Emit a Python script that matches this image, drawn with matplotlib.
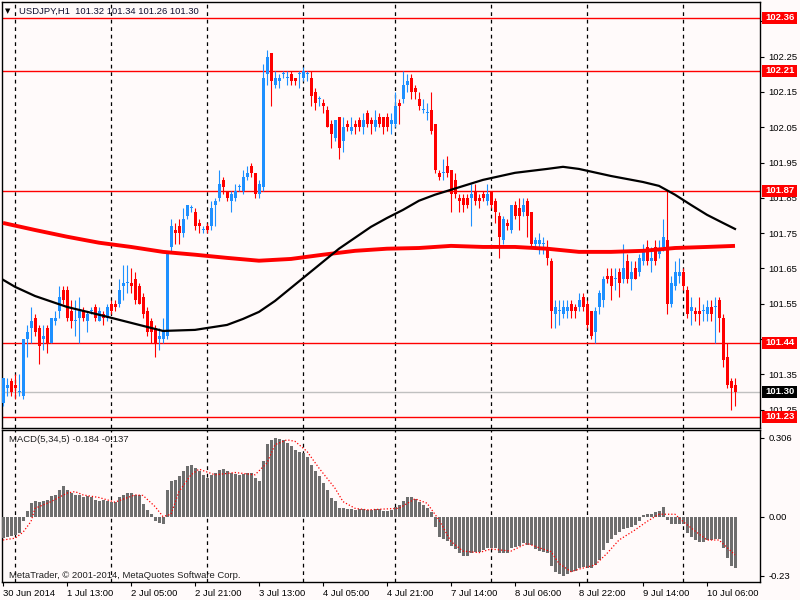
"""USDJPY H1 chart in MetaTrader style: candles, two moving averages, MACD pane."""
import numpy as np
import matplotlib.pyplot as plt
from matplotlib.patches import Rectangle
from matplotlib.transforms import blended_transform_factory

# ---- candle data (bar index = position) ----
opens = [101.27, 101.31, 101.33, 101.32, 101.30, 101.29, 101.45, 101.48, 101.51, 101.48,
         101.45, 101.48, 101.44, 101.50, 101.53, 101.59, 101.59, 101.53, 101.50, 101.51,
         101.53, 101.50, 101.53, 101.54, 101.50, 101.52, 101.51, 101.55, 101.55, 101.55,
         101.60, 101.61, 101.61, 101.62, 101.60, 101.57, 101.53, 101.50, 101.48, 101.45,
         101.45, 101.46, 101.71, 101.76, 101.77, 101.75, 101.80, 101.82, 101.81, 101.78,
         101.76, 101.77, 101.77, 101.83, 101.85, 101.90, 101.87, 101.84, 101.85, 101.88,
         101.87, 101.91, 101.94, 101.92, 101.86, 101.88, 102.20, 102.26, 102.17, 102.18,
         102.20, 102.19, 102.20, 102.19, 102.20, 102.19, 102.20, 102.19, 102.15, 102.13,
         102.12, 102.10, 102.06, 102.02, 102.08, 102.01, 102.06, 102.04, 102.06, 102.07,
         102.05, 102.09, 102.07, 102.05, 102.08, 102.08, 102.08, 102.06, 102.06, 102.12,
         102.13, 102.17, 102.19, 102.16, 102.13, 102.10, 102.09, 102.10, 102.06, 101.92,
         101.92, 101.94, 101.93, 101.90, 101.85, 101.85, 101.85, 101.85, 101.87, 101.85,
         101.86, 101.84, 101.87, 101.84, 101.80, 101.73, 101.78, 101.76, 101.83, 101.82,
         101.81, 101.84, 101.81, 101.72, 101.72, 101.72, 101.71, 101.67, 101.52, 101.53,
         101.52, 101.53, 101.55, 101.54, 101.54, 101.57, 101.55, 101.53, 101.47, 101.54,
         101.56, 101.63, 101.63, 101.62, 101.64, 101.62, 101.67, 101.62, 101.65, 101.64,
         101.67, 101.71, 101.67, 101.71, 101.69, 101.71, 101.73, 101.55, 101.60, 101.63,
         101.64, 101.59, 101.53, 101.53, 101.53, 101.53, 101.52, 101.54, 101.54, 101.56,
         101.51, 101.40, 101.33, 101.32]
highs = [101.34, 101.34, 101.34, 101.35, 101.35, 101.45, 101.49, 101.54, 101.52, 101.49,
         101.49, 101.49, 101.51, 101.53, 101.60, 101.60, 101.60, 101.56, 101.56, 101.57,
         101.54, 101.53, 101.54, 101.55, 101.54, 101.53, 101.55, 101.56, 101.56, 101.62,
         101.66, 101.66, 101.65, 101.64, 101.61, 101.58, 101.54, 101.51, 101.49, 101.48,
         101.51, 101.70, 101.79, 101.78, 101.79, 101.82, 101.83, 101.83, 101.82, 101.79,
         101.77, 101.78, 101.84, 101.85, 101.93, 101.91, 101.87, 101.87, 101.89, 101.89,
         101.93, 101.94, 101.95, 101.92, 101.90, 102.23, 102.27, 102.26, 102.21, 102.20,
         102.21, 102.21, 102.21, 102.19, 102.21, 102.22, 102.21, 102.21, 102.16, 102.14,
         102.13, 102.11, 102.07, 102.07, 102.08, 102.08, 102.07, 102.08, 102.07, 102.08,
         102.09, 102.10, 102.08, 102.10, 102.09, 102.08, 102.09, 102.09, 102.15, 102.13,
         102.21, 102.20, 102.20, 102.17, 102.15, 102.13, 102.12, 102.15, 102.06, 101.93,
         101.96, 101.97, 101.93, 101.92, 101.86, 101.86, 101.86, 101.89, 101.89, 101.86,
         101.87, 101.89, 101.87, 101.85, 101.81, 101.80, 101.79, 101.83, 101.84, 101.85,
         101.85, 101.85, 101.81, 101.74, 101.75, 101.74, 101.73, 101.68, 101.56, 101.56,
         101.56, 101.56, 101.56, 101.55, 101.58, 101.58, 101.56, 101.53, 101.54, 101.59,
         101.63, 101.65, 101.65, 101.65, 101.65, 101.72, 101.69, 101.67, 101.67, 101.69,
         101.72, 101.73, 101.71, 101.73, 101.73, 101.79, 101.87, 101.63, 101.67, 101.68,
         101.65, 101.60, 101.57, 101.54, 101.57, 101.55, 101.56, 101.56, 101.57, 101.57,
         101.52, 101.44, 101.34, 101.34]
lows = [101.26, 101.29, 101.29, 101.28, 101.29, 101.28, 101.40, 101.44, 101.46, 101.38,
        101.42, 101.41, 101.44, 101.49, 101.51, 101.55, 101.50, 101.48, 101.46, 101.44,
        101.50, 101.47, 101.52, 101.50, 101.50, 101.49, 101.50, 101.52, 101.53, 101.54,
        101.56, 101.58, 101.58, 101.55, 101.55, 101.51, 101.46, 101.44, 101.40, 101.42,
        101.44, 101.45, 101.70, 101.72, 101.72, 101.74, 101.79, 101.81, 101.76, 101.75,
        101.75, 101.75, 101.76, 101.77, 101.84, 101.86, 101.84, 101.81, 101.84, 101.87,
        101.86, 101.90, 101.91, 101.85, 101.85, 101.87, 102.17, 102.11, 102.16, 102.16,
        102.19, 102.17, 102.17, 102.17, 102.16, 102.18, 102.18, 102.11, 102.10, 102.11,
        102.09, 102.05, 101.99, 102.01, 101.96, 101.98, 102.04, 102.03, 102.03, 102.04,
        102.03, 102.05, 102.03, 102.04, 102.05, 102.03, 102.04, 102.03, 102.05, 102.06,
        102.12, 102.15, 102.13, 102.13, 102.10, 102.09, 102.07, 102.03, 101.92, 101.90,
        101.90, 101.91, 101.81, 101.85, 101.81, 101.81, 101.82, 101.77, 101.83, 101.82,
        101.84, 101.83, 101.82, 101.78, 101.68, 101.72, 101.76, 101.75, 101.79, 101.76,
        101.80, 101.74, 101.71, 101.71, 101.69, 101.69, 101.66, 101.48, 101.48, 101.49,
        101.51, 101.51, 101.51, 101.51, 101.53, 101.53, 101.48, 101.45, 101.44, 101.52,
        101.54, 101.61, 101.56, 101.59, 101.57, 101.61, 101.61, 101.59, 101.62, 101.63,
        101.66, 101.66, 101.64, 101.66, 101.68, 101.70, 101.52, 101.54, 101.59, 101.61,
        101.59, 101.51, 101.49, 101.50, 101.49, 101.50, 101.50, 101.50, 101.44, 101.47,
        101.37, 101.31, 101.25, 101.26]
closes = [101.34, 101.32, 101.30, 101.31, 101.30, 101.45, 101.47, 101.50, 101.47, 101.43,
          101.46, 101.44, 101.51, 101.51, 101.57, 101.56, 101.51, 101.50, 101.50, 101.53,
          101.51, 101.52, 101.53, 101.51, 101.53, 101.51, 101.54, 101.53, 101.54, 101.59,
          101.61, 101.61, 101.60, 101.56, 101.55, 101.52, 101.47, 101.47, 101.44, 101.46,
          101.47, 101.70, 101.77, 101.75, 101.75, 101.79, 101.83, 101.82, 101.77, 101.77,
          101.76, 101.76, 101.82, 101.84, 101.89, 101.88, 101.85, 101.86, 101.87, 101.88,
          101.91, 101.92, 101.92, 101.86, 101.89, 102.19, 102.25, 102.18, 102.19, 102.19,
          102.20, 102.19, 102.18, 102.18, 102.20, 102.21, 102.20, 102.14, 102.12, 102.13,
          102.11, 102.05, 102.03, 102.07, 101.99, 102.05, 102.05, 102.05, 102.05, 102.05,
          102.07, 102.06, 102.06, 102.07, 102.06, 102.05, 102.05, 102.07, 102.11, 102.11,
          102.17, 102.18, 102.15, 102.15, 102.11, 102.10, 102.09, 102.04, 101.93, 101.91,
          101.92, 101.92, 101.86, 101.86, 101.84, 101.83, 101.83, 101.86, 101.84, 101.84,
          101.85, 101.86, 101.83, 101.81, 101.74, 101.79, 101.77, 101.83, 101.80, 101.80,
          101.83, 101.80, 101.72, 101.73, 101.73, 101.72, 101.68, 101.53, 101.54, 101.53,
          101.54, 101.54, 101.53, 101.53, 101.56, 101.54, 101.49, 101.46, 101.53, 101.58,
          101.62, 101.62, 101.60, 101.62, 101.61, 101.65, 101.62, 101.64, 101.62, 101.68,
          101.70, 101.67, 101.68, 101.67, 101.70, 101.74, 101.55, 101.61, 101.64, 101.64,
          101.60, 101.52, 101.54, 101.52, 101.52, 101.53, 101.54, 101.52, 101.54, 101.51,
          101.39, 101.32, 101.31, 101.30]

# ---- moving averages (sampled at bar indices) ----
ma_black_idx = [0, 3, 8, 16, 24, 32, 40, 48, 56, 60, 64, 68, 72, 76, 80, 84, 88, 92, 96,
                100, 104, 108, 112, 120, 128, 136, 140, 144, 152, 160, 164, 168, 172, 176,
                180, 183]
ma_black = [101.618, 101.598, 101.572, 101.541, 101.519, 101.496, 101.473, 101.476, 101.490,
            101.507, 101.527, 101.558, 101.595, 101.632, 101.669, 101.706, 101.737, 101.768,
            101.793, 101.816, 101.842, 101.859, 101.873, 101.901, 101.921, 101.932, 101.938,
            101.932, 101.912, 101.895, 101.884, 101.859, 101.830, 101.802, 101.779, 101.762]
ma_red_idx = [0, 8, 16, 24, 32, 40, 48, 56, 64, 72, 80, 88, 96, 104, 112, 120, 128, 136,
              144, 152, 160, 168, 176, 183]
ma_red = [101.779, 101.759, 101.740, 101.723, 101.711, 101.697, 101.689, 101.680, 101.672,
          101.677, 101.689, 101.700, 101.706, 101.708, 101.714, 101.711, 101.711, 101.706,
          101.697, 101.697, 101.700, 101.708, 101.711, 101.714]

# ---- MACD(5,34,5) ----
macd = [-0.084, -0.078, -0.074, -0.071, -0.065, -0.017, 0.022, 0.052, 0.061, 0.058,
        0.061, 0.065, 0.078, 0.084, 0.104, 0.117, 0.104, 0.091, 0.084, 0.082,
        0.074, 0.078, 0.074, 0.065, 0.061, 0.065, 0.061, 0.056, 0.056, 0.074,
        0.084, 0.091, 0.091, 0.084, 0.082, 0.048, 0.026, 0.009, -0.019, -0.026,
        -0.030, 0.104, 0.139, 0.143, 0.156, 0.175, 0.198, 0.201, 0.188, 0.175,
        0.162, 0.149, 0.160, 0.169, 0.182, 0.185, 0.175, 0.169, 0.165, 0.162,
        0.165, 0.169, 0.171, 0.149, 0.139, 0.217, 0.281, 0.298, 0.306, 0.302,
        0.298, 0.285, 0.272, 0.259, 0.250, 0.246, 0.233, 0.201, 0.175, 0.156,
        0.130, 0.104, 0.071, 0.061, 0.035, 0.032, 0.030, 0.030, 0.026, 0.030,
        0.030, 0.026, 0.026, 0.030, 0.030, 0.022, 0.022, 0.026, 0.039, 0.045,
        0.061, 0.074, 0.074, 0.069, 0.058, 0.045, 0.032, 0.017, -0.039, -0.078,
        -0.087, -0.095, -0.113, -0.126, -0.143, -0.152, -0.152, -0.143, -0.139, -0.136,
        -0.130, -0.121, -0.121, -0.123, -0.143, -0.143, -0.143, -0.123, -0.117, -0.113,
        -0.104, -0.110, -0.110, -0.126, -0.134, -0.139, -0.143, -0.191, -0.214, -0.224,
        -0.230, -0.224, -0.217, -0.211, -0.201, -0.195, -0.201, -0.198, -0.188, -0.169,
        -0.130, -0.104, -0.087, -0.071, -0.061, -0.048, -0.043, -0.039, -0.032, -0.019,
        0.006, 0.009, 0.009, 0.017, 0.022, 0.039, -0.013, -0.030, -0.030, -0.030,
        -0.030, -0.065, -0.078, -0.091, -0.097, -0.097, -0.091, -0.091, -0.087, -0.087,
        -0.121, -0.160, -0.191, -0.200]
signal_idx = [0, 3, 5, 7, 8, 12, 16, 18, 20, 24, 28, 33, 35, 38, 40, 42, 44, 47, 49, 53,
              58, 63, 66, 68, 71, 73, 76, 79, 83, 85, 88, 91, 99, 103, 106, 109, 112, 115,
              119, 122, 127, 131, 134, 137, 139, 142, 144, 148, 151, 154, 158, 161, 164,
              168, 170, 173, 176, 179, 183]
signal = [-0.091, -0.084, -0.061, -0.019, 0.032, 0.058, 0.091, 0.097, 0.084, 0.074,
          0.056, 0.084, 0.082, 0.039, 0.000, 0.009, 0.097, 0.162, 0.184, 0.162,
          0.171, 0.162, 0.208, 0.279, 0.298, 0.292, 0.253, 0.188, 0.110, 0.058,
          0.032, 0.026, 0.032, 0.069, 0.052, -0.013, -0.097, -0.134, -0.140, -0.126,
          -0.134, -0.104, -0.121, -0.136, -0.182, -0.214, -0.204, -0.188, -0.143, -0.091,
          -0.052, -0.019, 0.009, 0.009, -0.019, -0.056, -0.091, -0.091, -0.149]

# ---- levels, ticks, labels ----
red_levels = [102.36, 102.21, 101.87, 101.44, 101.23]
current_price = 101.30
price_ticks = [102.35, 102.25, 102.15, 102.05, 101.95, 101.85, 101.75, 101.65, 101.55,
               101.45, 101.35, 101.25]
hidden_ticks = [102.35, 101.45]  # covered by the level boxes
macd_ticks = [0.306, 0.0, -0.23]
macd_tick_labels = ['0.306', '0.00', '-0.23']
day_separators = [3, 27, 51, 75, 98, 122, 146, 170]
time_idx = [0, 16, 32, 48, 64, 80, 96, 112, 128, 144, 160, 176]
time_labels = ['30 Jun 2014', '1 Jul 13:00', '2 Jul 05:00', '2 Jul 21:00', '3 Jul 13:00',
               '4 Jul 05:00', '4 Jul 21:00', '7 Jul 14:00', '8 Jul 06:00', '8 Jul 22:00',
               '9 Jul 14:00', '10 Jul 06:00']

BG = '#fffafa'
BULL = '#1e90ff'
BEAR = '#ff0000'
FS = 6.8
W, H = 800, 600
PANE_L, PANE_R = 2, 760


def px_axes(fig, left, top, right, bottom):
    # pixel box -> figure fractions
    return fig.add_axes([left / W, 1 - bottom / H, (right - left) / W, (bottom - top) / H])


def draw_candles(ax):
    o = np.array(opens)
    h = np.array(highs)
    l = np.array(lows)
    c = np.array(closes)
    x = np.arange(len(o))
    up = c >= o
    colors = np.where(up, BULL, BEAR)
    ax.vlines(x, l, h, colors=colors, linewidth=0.8, zorder=3)
    body_lo = np.minimum(o, c)
    body_h = np.maximum(np.abs(c - o), 0.003)
    ax.bar(x, body_h, bottom=body_lo, width=0.75, color=colors, linewidth=0, zorder=4)


def level_box(ax, price, face, px_per_unit):
    # MetaTrader style price tag on the right scale
    tr = blended_transform_factory(ax.transAxes, ax.transData)
    pane_w = PANE_R - PANE_L
    x0 = (762 - PANE_L) / pane_w
    bw = 35 / pane_w
    bh = 12 / px_per_unit
    ax.add_patch(Rectangle((x0, price - bh / 2), bw, bh, transform=tr, facecolor=face,
                           edgecolor='none', clip_on=False, zorder=9))
    ax.text((765 - PANE_L) / pane_w, price, '%.2f' % price, transform=tr, color='white',
            fontsize=FS, fontweight='bold', va='center', ha='left', clip_on=False, zorder=10)


def main(outpath='out.png'):
    plt.rcParams['font.family'] = ['Liberation Sans', 'DejaVu Sans']
    fig = plt.figure(figsize=(8, 6), dpi=100, facecolor=BG)

    ax = px_axes(fig, PANE_L, 2, PANE_R, 428)
    ax2 = px_axes(fig, PANE_L, 430, PANE_R, 582)
    for a in (ax, ax2):
        a.set_facecolor(BG)
        a.set_xlim(-0.25, 189.25)
        for s in a.spines.values():
            s.set_color('black')
            s.set_linewidth(1.0)
        a.yaxis.tick_right()
        a.tick_params(axis='y', direction='out', length=3, width=0.8, labelsize=FS, pad=3)
        for d in day_separators:
            a.axvline(d + 0.1, color='black', linewidth=0.9, linestyle=(0, (3, 3)), zorder=1)

    # main price pane
    ylo, yhi = 101.198, 102.405
    ax.set_ylim(ylo, yhi)
    ax.set_yticks(price_ticks)
    ax.set_yticklabels(['' if p in hidden_ticks else '%.2f' % p for p in price_ticks])
    ax.set_xticks([])
    for lv in red_levels:
        ax.axhline(lv, color='red', linewidth=1.0, zorder=2)
    ax.axhline(current_price, color='#c0c0c0', linewidth=1.0, zorder=2)

    draw_candles(ax)
    ax.plot(ma_red_idx, ma_red, color='red', linewidth=2.8, zorder=5, solid_capstyle='butt')
    ax.plot(ma_black_idx, ma_black, color='black', linewidth=1.6, zorder=5)

    px_per_unit = (428 - 2) / (yhi - ylo)
    for lv in red_levels:
        level_box(ax, lv, 'red', px_per_unit)
    level_box(ax, current_price, 'black', px_per_unit)

    fig.text(5 / W, 1 - 11 / H, '\u25bc', fontsize=5, color='black', va='center',
             family='DejaVu Sans')
    fig.text(19 / W, 1 - 11 / H, 'USDJPY,H1  101.32 101.34 101.26 101.30', fontsize=FS,
             color='#101030', va='center')

    # MACD pane
    x = np.arange(len(macd))
    ax2.bar(x, macd, width=0.75, color='#6e6e6e', linewidth=0, zorder=3)
    ax2.plot(signal_idx, signal, color='red', linewidth=0.9, linestyle=(0, (1, 1.6)), zorder=4)
    ax2.set_ylim(-0.254, 0.336)
    ax2.set_yticks(macd_ticks)
    ax2.set_yticklabels(macd_tick_labels)
    ax2.set_xticks(time_idx)
    ax2.set_xticklabels(time_labels, ha='left', fontsize=FS)
    ax2.tick_params(axis='x', direction='out', length=3, width=0.8, pad=2)
    ax2.text(7 / 758, 1 - 10 / 152, 'MACD(5,34,5) -0.184 -0.137', transform=ax2.transAxes,
             fontsize=FS, color='#202020', va='center', ha='left')
    ax2.text(7 / 758, 7 / 152, 'MetaTrader, \u00a9 2001-2014, MetaQuotes Software Corp.',
             transform=ax2.transAxes, fontsize=FS, color='#202020', va='center',
             ha='left')

    fig.savefig(outpath, dpi=100, facecolor=BG)
    plt.close(fig)


if __name__ == '__main__':
    main()
